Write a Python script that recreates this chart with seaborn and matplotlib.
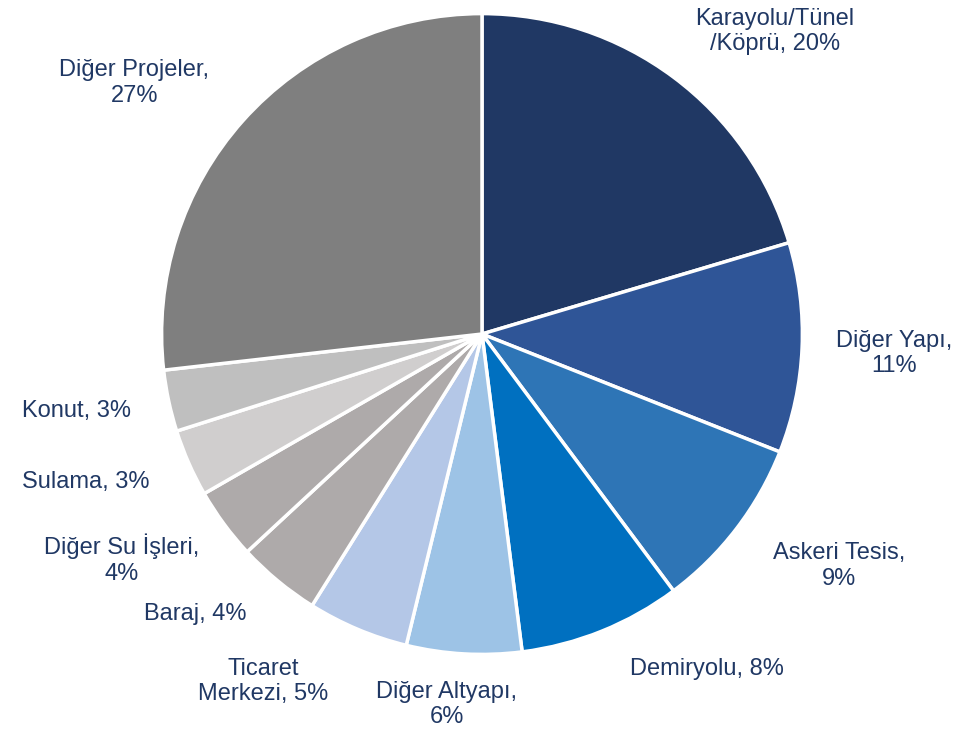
import matplotlib
matplotlib.use('Agg')
import matplotlib.pyplot as plt
import seaborn as sns

# Data (shares in %)
categories = ['Karayolu/Tünel\n/Köprü', 'Diğer Yapı', 'Askeri Tesis', 'Demiryolu',
              'Diğer Altyapı', 'Ticaret\nMerkezi', 'Baraj', 'Diğer Su İşleri',
              'Sulama', 'Konut', 'Diğer Projeler']
shares = [20.4, 10.6, 8.8, 8.2, 5.8, 5.1, 4.2, 3.6, 3.4, 3.1, 26.8]
label_texts = ['Karayolu/Tünel\n/Köprü, 20%', 'Diğer Yapı,\n11%', 'Askeri Tesis,\n9%',
               'Demiryolu, 8%', 'Diğer Altyapı,\n6%', 'Ticaret\nMerkezi, 5%',
               'Baraj, 4%', 'Diğer Su İşleri,\n4%', 'Sulama, 3%', 'Konut, 3%',
               'Diğer Projeler,\n27%']

colors = ['#203864', '#2F5597', '#2E75B6', '#0070C0', '#9DC3E6', '#B4C7E7',
          '#AEAAAA', '#AEAAAA', '#D0CECE', '#BFBFBF', '#7F7F7F']

# label centres (in pie-radius units)
label_pos = [(0.91, 0.94), (1.28, -0.06), (1.11, -0.72), (0.70, -1.04),
             (-0.11, -1.15), (-0.68, -1.08), (-0.89, -0.87), (-1.12, -0.70),
             (-1.23, -0.46), (-1.26, -0.24), (-1.08, 0.78)]

sns.set_theme(style='white')
plt.rcParams['font.family'] = ['Liberation Sans', 'DejaVu Sans']

fig = plt.figure(figsize=(9.67, 7.35), dpi=100)
ax = fig.add_axes([0, 0, 1, 1])

ax.pie(shares, colors=colors, startangle=90, counterclock=False, radius=0.995,
       wedgeprops=dict(edgecolor='white', linewidth=2.5))

for txt, (x, y) in zip(label_texts, label_pos):
    ax.text(x, y, txt, ha='center', va='center', fontsize=17,
            color='#203864', linespacing=1.2)

# keep pie centre/radius in place
ax.set_aspect('auto')
ax.set_xlim(-482 / 322, (967 - 482) / 322)
ax.set_ylim(-(735 - 334) / 322, 334 / 322)
ax.axis('off')

fig.savefig('out.png', dpi=100)
